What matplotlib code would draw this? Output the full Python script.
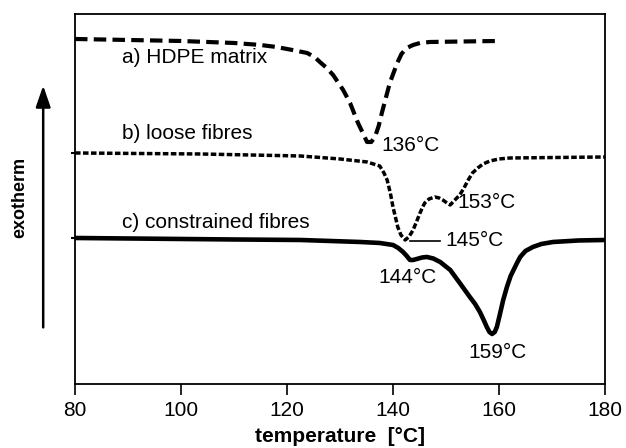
import matplotlib
matplotlib.use("Agg")
import matplotlib.pyplot as plt

plt.rcParams['font.family'] = ['Liberation Sans', 'DejaVu Sans']

# a) HDPE matrix  (temperature in degC, heat flow in arbitrary units, exotherm up)
temp_a = [80.0, 100.0, 110.0, 115.0, 118.0, 121.0, 123.8, 125.2, 126.2, 127.5, 128.7,
          130.6, 131.9, 133.4, 134.4, 135.1, 135.9, 136.6, 137.3, 137.9, 139.4, 140.8,
          141.6, 142.6, 143.8, 145.1, 147.0, 159.8]
flow_a = [345, 343, 341, 339, 337, 334, 331, 327, 322, 316, 309,
          294, 281, 261, 250, 242, 242, 247, 258, 271, 301, 321,
          330, 336, 339, 341, 342, 343]

# b) loose fibres
temp_b = [80.0, 103.6, 122.5, 130.0, 135.1, 137.5, 138.3, 138.9, 139.5, 140.0, 140.5,
          140.9, 141.5, 142.3, 143.0, 143.8, 144.5, 145.1, 145.6, 146.0, 146.8, 147.9,
          148.7, 149.4, 150.2, 150.8, 151.5, 152.6, 153.4, 154.2, 155.0, 156.0, 157.0,
          158.3, 160.0, 162.1, 180.0]
flow_b = [231, 230, 228, 225, 222, 218, 211, 204, 191, 177, 166,
          157, 149, 144, 147, 154, 163, 171, 177, 181, 185, 187,
          186, 184, 181, 179, 183, 189, 196, 204, 211, 216, 220,
          223, 225, 226, 227]

# c) constrained fibres
temp_c = [80.0, 110.0, 122.5, 133.8, 137.5, 140.0, 141.0, 141.9, 142.6, 143.2, 143.8,
          144.5, 145.5, 146.4, 147.6, 148.9, 150.8, 152.6, 154.5, 155.5, 156.4, 157.2,
          157.7, 158.2, 158.7, 159.2, 159.6, 160.1, 160.8, 161.5, 162.2, 163.4, 164.0,
          165.0, 166.4, 168.0, 170.2, 175.0, 180.0]
flow_c = [146, 144.5, 144, 142, 141, 139, 136, 132, 128, 124, 124,
          125, 126.5, 127, 125.5, 122, 114, 101, 87, 80, 72, 63,
          57, 52, 50, 52, 57, 68, 84, 97, 108, 121, 127,
          133, 137, 140, 142, 143.5, 144]

fig = plt.figure(figsize=(6.26, 4.48), dpi=100)
ax = fig.add_axes([0.1198, 0.1429, 0.8466, 0.8259])

ax.plot(temp_a, flow_a, color='black', lw=3.0, dashes=(3, 1.5))
ax.plot(temp_b, flow_b, color='black', lw=2.5, dashes=(1.6, 0.7))
ax.plot(temp_c, flow_c, color='black', lw=3.3, solid_capstyle='round',
        solid_joinstyle='round')

ax.set_xlim(80, 180)
ax.set_ylim(0, 370)
ax.set_xticks([80, 100, 120, 140, 160, 180])
ax.set_yticks([231, 146])
ax.set_yticklabels([])
ax.tick_params(axis='x', direction='out', length=8, width=1.2, labelsize=15, pad=4)
ax.tick_params(axis='y', direction='out', length=3, width=1.5)
for s in ax.spines.values():
    s.set_linewidth(1.3)

ax.text(88.9, 326, 'a) HDPE matrix', fontsize=15, va='center')
ax.text(88.9, 250, 'b) loose fibres', fontsize=15, va='center')
ax.text(88.9, 161, 'c) constrained fibres', fontsize=15, va='center')
ax.text(137.9, 238, '136°C', fontsize=15, va='center')
ax.text(152.1, 181, '153°C', fontsize=15, va='center')
ax.text(149.8, 143, '145°C', fontsize=15, va='center')
ax.text(137.2, 106, '144°C', fontsize=15, va='center')
ax.text(154.2, 31, '159°C', fontsize=15, va='center')
ax.plot([143.2, 148.9], [143, 143], color='black', lw=1.2)

ax.set_xlabel('temperature  [°C]', fontsize=15, fontweight='bold', labelpad=5)
fig.text(0.032, 0.56, 'exotherm', rotation=90, fontsize=13, fontweight='bold',
         ha='center', va='center')
ax.annotate('', xy=(0.069, 0.815), xytext=(0.069, 0.263), xycoords='figure fraction',
            textcoords='figure fraction',
            arrowprops=dict(arrowstyle='-|>,head_length=1.3,head_width=0.45',
                            color='black', lw=1.8))

fig.savefig('out.png', dpi=100)
